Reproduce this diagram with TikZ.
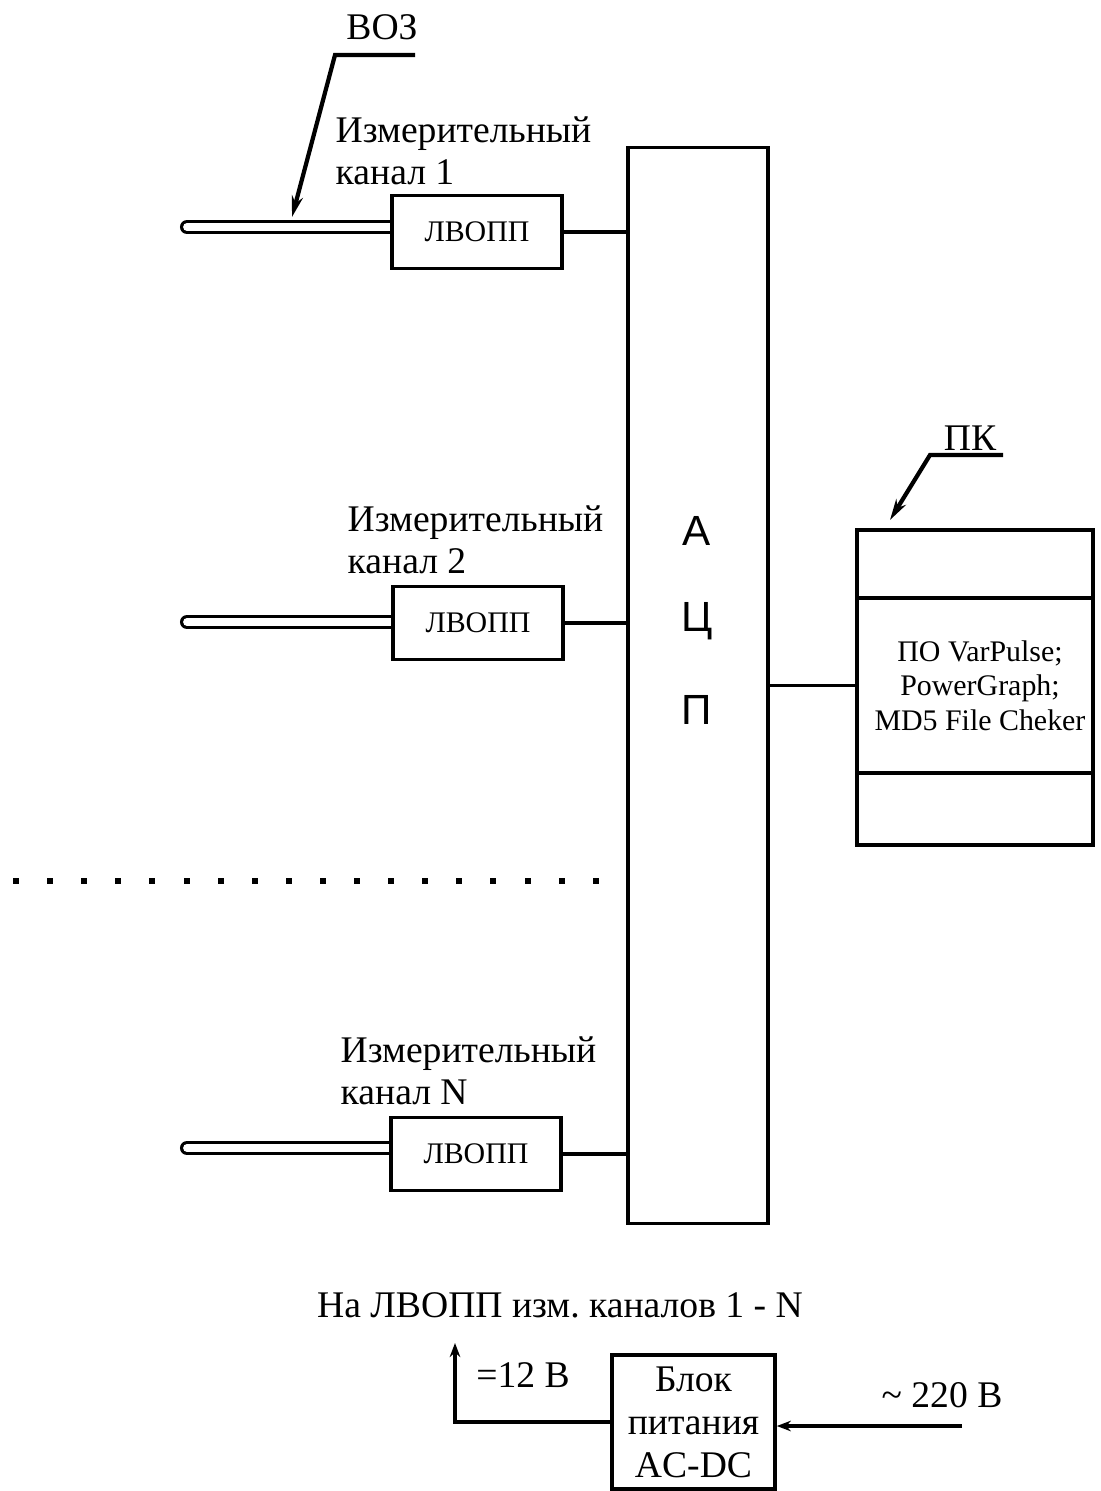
\documentclass[tikz,border=0pt]{standalone}
\usepackage{fontspec}
\setmainfont{Liberation Serif}
\setsansfont{Liberation Sans}
\usetikzlibrary{arrows.meta,positioning}
\pgfdeclarelayer{bg}
\pgfsetlayers{bg,main}
\frenchspacing

\begin{document}
\begin{tikzpicture}[x=0.01cm,y=-0.01cm]

\useasboundingbox (0,0) rectangle (1100,1491);

\tikzstyle{every node}=[inner sep=0pt,anchor=center];
\tikzstyle{lvopp}=[draw,line width=1pt,fill=white,minimum width=1.7cm,minimum height=0.73cm,font=\fontsize{8.5}{10}\selectfont];
\tikzstyle{chan}=[anchor=west,align=left,font=\fontsize{10.7}{12}\selectfont];
\tikzstyle{lbl}=[font=\fontsize{10.7}{12}\selectfont];
\tikzstyle{pcbox}=[draw,line width=1pt,outer sep=0pt,minimum width=2.36cm,align=center,font=\fontsize{8.5}{9.8}\selectfont];
\tikzstyle{letter}=[font=\sffamily\fontsize{12}{14}\selectfont];
\tikzstyle{fiber}=[line width=0.9pt,double=white,double distance=2.2pt,line cap=round];
\tikzstyle{leader}=[line width=1.2pt,-{Stealth[length=6pt,width=3.2pt]}];
\tikzstyle{arr}=[line width=1pt,-{Stealth[length=4pt,width=3pt]}];

% Measuring channels
\node[lvopp] (l1) at (477,232) {ЛВОПП};
\node[lvopp] (l2) at (478,623) {ЛВОПП};
\node[lvopp] (lN) at (476,1154) {ЛВОПП};

\node[chan] (k1) at (335,151) {Измерительный\\канал 1};
\node[chan] (k2) at (347,540) {Измерительный\\канал 2};
\node[chan] (kN) at (340,1071) {Измерительный\\канал N};

% ADC
\node[draw,line width=1pt,minimum width=1.4cm,minimum height=10.75cm] (adc) at (698,685.5) {};
\node[letter] (a1) at (697,531) {А};
\node[letter] (a2) at (697,621) {Ц};
\node[letter] (a3) at (697,710) {П};

% PC
\node[pcbox,minimum height=0.68cm] (pc1) at (975,564) {};
\node[pcbox,minimum height=1.75cm,below=0pt of pc1] (pc2) {\hspace*{0.1cm}ПО VarPulse;\\\hspace*{0.1cm}PowerGraph;\\\hspace*{0.1cm}MD5 File Cheker};
\node[pcbox,minimum height=0.72cm,below=0pt of pc2] (pc3) {};

% Power supply
\node[lbl] (na) at (560,1305) {На ЛВОПП изм. каналов 1 - N};
\node[draw,line width=1pt,minimum width=1.63cm,minimum height=1.34cm,align=center,font=\fontsize{10.7}{12.2}\selectfont] (pw) at (693.5,1422) {Блок\\питания\\AC-DC};
\node[lbl] (v12) at (523,1375) {=12 В};
\node[lbl] (v220) at (942,1395) {\textasciitilde{} 220 В};

% Labels with leaders
\node[lbl] (voz) at (382,27) {ВОЗ};
\node[lbl] (pk) at (970,438) {ПК};

\coordinate (voz-e) at (415,55);
\coordinate (voz-k) at (335,55);
\coordinate (voz-t) at (292,217);
\coordinate (pk-e) at (1003,455);
\coordinate (pk-k) at (930,455);
\coordinate (pk-t) at (890,520);

\coordinate (f1) at (187,227);
\coordinate (f2) at (187,622);
\coordinate (fN) at (187,1148);

\coordinate (out12) at (455,1343);
\coordinate (in220) at (962,1426);

% Fibers
\begin{pgfonlayer}{bg}
\draw[fiber] (f1) -- (f1 -| l1.center);
\draw[fiber] (f2) -- (f2 -| l2.center);
\draw[fiber] (fN) -- (fN -| lN.center);
\end{pgfonlayer}

% Links
\draw[line width=1pt] (l1.east) -- (l1.east -| adc.west)
(l2.east) -- (l2.east -| adc.west)
(lN.east) -- (lN.east -| adc.west)
(pc2.west -| adc.east) -- (pc2.west);

\draw[leader] (voz-e) -- (voz-k) -- (voz-t);
\draw[leader] (pk-e) -- (pk-k) -- (pk-t);

\draw[arr] (pw.west) -| (out12);
\draw[arr] (in220) -- (in220 -| pw.east);

% Dots
\foreach \i in {0,...,17}
  \fill ({16+34.1*\i},881) ++(-3,-3) rectangle ++(6,6);

\end{tikzpicture}
\end{document}
